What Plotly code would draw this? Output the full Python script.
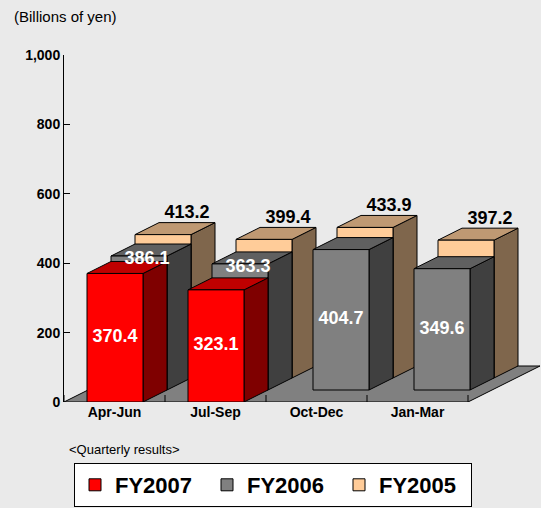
import plotly.graph_objects as go

# ---------------- data ----------------
categories = ["Apr-Jun", "Jul-Sep", "Oct-Dec", "Jan-Mar"]
fy2007 = [370.4, 323.1, None, None]
fy2006 = [386.1, 363.3, 404.7, 349.6]
fy2005 = [413.2, 399.4, 433.9, 397.2]
series_names = ["FY2007", "FY2006", "FY2005"]
y_tick_values = [0, 200, 400, 600, 800, 1000]
y_tick_labels = ["0", "200", "400", "600", "800", "1,000"]

# ---------------- geometry / style ----------------
W, H = 541, 508
ML, MR, MT, MB = 64, 0, 55, 106
PLOT_W = W - ML - MR
PLOT_H = H - MT - MB
SLOT_PX = 101.0
X_MAX = PLOT_W / SLOT_PX
Y_MAX = 1000.0
PX_PER_Y = PLOT_H / Y_MAX
DX = 24 / SLOT_PX          # depth step (x units)
DY = 12 / PX_PER_Y         # depth step (y units)
BAR_L = 23 / SLOT_PX
BAR_W = 56 / SLOT_PX
FONT = "Arial, Liberation Sans, sans-serif"
BG = "#EAEAEA"

styles = {
    "FY2007": dict(front="#FF0000", top="#BF0000", side="#7F0000"),
    "FY2006": dict(front="#808080", top="#606060", side="#404040"),
    "FY2005": dict(front="#FFCC99", top="#BF9973", side="#7F664C"),
}
series_vals = {"FY2007": fy2007, "FY2006": fy2006, "FY2005": fy2005}
depth_of = {"FY2007": 0, "FY2006": 1, "FY2005": 2}


def px2paper_x(px):
    return (px - ML) / PLOT_W


def px2paper_y(py):
    return (H - MB - py) / PLOT_H


fig = go.Figure()

# floor
n = len(categories)
fx = [0, n, n + 3 * DX, 3 * DX, 0]
fy = [0, 0, 3 * DY, 3 * DY, 0]
fig.add_trace(go.Scatter(x=fx, y=fy, mode="lines", fill="toself",
                         fillcolor="#808080", line=dict(color="black", width=1),
                         hoverinfo="skip", showlegend=False))
# floor ticks at category boundaries
tx, ty = [], []
for k in range(n + 1):
    tx += [k, k, None]
    ty += [0, 7 / PX_PER_Y, None]
fig.add_trace(go.Scatter(x=tx, y=ty, mode="lines", line=dict(color="black", width=1),
                         hoverinfo="skip", showlegend=False))

# bars, back to front
for name in ["FY2005", "FY2006", "FY2007"]:
    d = depth_of[name]
    vals = series_vals[name]
    st = styles[name]
    faces = {"front": ([], []), "top": ([], []), "side": ([], [])}
    for i, v in enumerate(vals):
        if v is None:
            continue
        x0 = i + BAR_L + d * DX
        x1 = x0 + BAR_W
        b = d * DY
        t = b + v
        px_, py_ = faces["front"]
        px_ += [x0, x1, x1, x0, x0, None]
        py_ += [b, b, t, t, b, None]
        px_, py_ = faces["top"]
        px_ += [x0, x1, x1 + DX, x0 + DX, x0, None]
        py_ += [t, t, t + DY, t + DY, t, None]
        px_, py_ = faces["side"]
        px_ += [x1, x1 + DX, x1 + DX, x1, x1, None]
        py_ += [b, b + DY, t + DY, t, b, None]
    for face in ["side", "top", "front"]:
        xs, ys = faces[face]
        fig.add_trace(go.Scatter(x=xs, y=ys, mode="lines", fill="toself",
                                 fillcolor=st[face], line=dict(color="black", width=1),
                                 hoverinfo="skip", showlegend=False))

# value labels
lab_font_b = dict(family=FONT, size=18, color="black", weight="bold")
lab_font_w = dict(family=FONT, size=18, color="white", weight="bold")

# FY2005 labels above back-top edge
x5, y5, t5 = [], [], []
for i, v in enumerate(fy2005):
    d = depth_of["FY2005"]
    x5.append(i + BAR_L + d * DX + DX + BAR_W / 2)
    y5.append(d * DY + v + DY)
    t5.append(f"{v:.1f}")
fig.add_trace(go.Scatter(x=x5, y=y5, text=t5, mode="text", textposition="top center",
                         textfont=lab_font_b, cliponaxis=False, hoverinfo="skip",
                         showlegend=False))

# FY2006 labels
x6, y6, t6 = [], [], []
for i, v in enumerate(fy2006):
    d = depth_of["FY2006"]
    cx = i + BAR_L + d * DX + BAR_W / 2
    if fy2007[i] is not None:
        x6.append(cx + 8 / SLOT_PX)
        y6.append(d * DY + v - 10)
    else:
        x6.append(cx)
        y6.append(d * DY + v / 2)
    t6.append(f"{v:.1f}")
fig.add_trace(go.Scatter(x=x6, y=y6, text=t6, mode="text", textposition="middle center",
                         textfont=lab_font_w, cliponaxis=False, hoverinfo="skip",
                         showlegend=False))

# FY2007 labels
x7, y7, t7 = [], [], []
for i, v in enumerate(fy2007):
    if v is None:
        continue
    x7.append(i + BAR_L + BAR_W / 2)
    y7.append(v / 2)
    t7.append(f"{v:.1f}")
fig.add_trace(go.Scatter(x=x7, y=y7, text=t7, mode="text", textposition="middle center",
                         textfont=lab_font_w, cliponaxis=False, hoverinfo="skip",
                         showlegend=False))

# legend entries
for name in series_names:
    fig.add_trace(go.Bar(x=[None], y=[None], name=name,
                         marker=dict(color=styles[name]["front"],
                                     line=dict(color="black", width=1)),
                         showlegend=True))

fig.update_layout(
    width=W, height=H,
    margin=dict(l=ML, r=MR, t=MT, b=MB, pad=0, autoexpand=False),
    paper_bgcolor=BG, plot_bgcolor=BG,
    font=dict(family=FONT, color="black"),
    showlegend=True,
    legend=dict(orientation="h", xref="container", yref="container",
                x=74 / W, xanchor="left", y=1 - 507 / H, yanchor="bottom",
                bgcolor="white", bordercolor="black", borderwidth=1,
                font=dict(family=FONT, size=22, color="black", weight="bold"),
                entrywidth=87, traceorder="normal", itemwidth=30),
    xaxis=dict(range=[0, X_MAX], showgrid=False, zeroline=False, showline=False,
               tickvals=[i + 0.5 for i in range(n)], ticktext=categories,
               ticks="", ticklabelstandoff=0,
               tickfont=dict(family=FONT, size=14, weight="bold"),
               fixedrange=True),
    yaxis=dict(range=[0, Y_MAX], showgrid=False, zeroline=False, showline=True,
               linecolor="black", linewidth=1, ticks="inside", ticklen=6,
               tickcolor="black", tickvals=y_tick_values, ticktext=y_tick_labels,
               tickfont=dict(family=FONT, size=14, weight="bold"),
               fixedrange=True),
    annotations=[
        dict(text="(Billions of yen)", x=px2paper_x(12), y=px2paper_y(16),
             xref="paper", yref="paper", xanchor="left", yanchor="middle",
             showarrow=False, font=dict(family=FONT, size=15, color="black")),
        dict(text="<Quarterly results>", x=px2paper_x(67), y=px2paper_y(449),
             xref="paper", yref="paper", xanchor="left", yanchor="middle",
             showarrow=False, font=dict(family=FONT, size=13, color="black")),
    ],
)

fig.write_html("out.html", config={"displayModeBar": False},
               post_script="document.body.style.margin='0';")
